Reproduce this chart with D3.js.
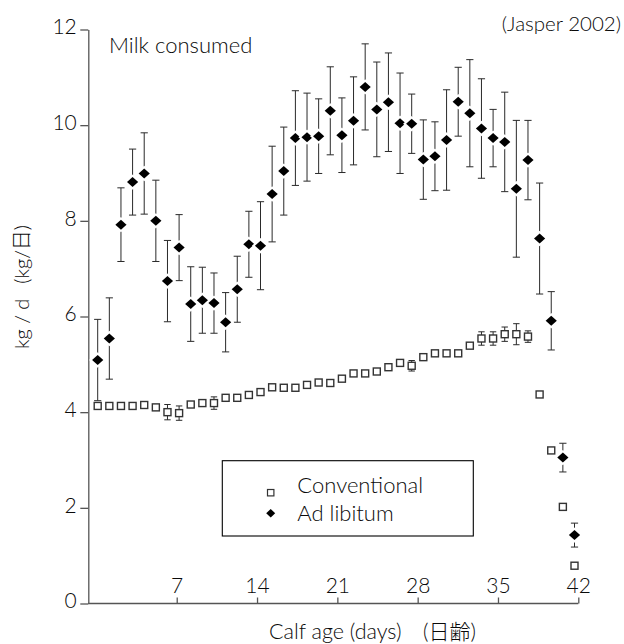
<!DOCTYPE html>
<html>
<head>
<meta charset="utf-8">
<script src="https://cdn.jsdelivr.net/npm/d3@7"></script>
<style>
  body { margin: 0; background: #fff; }
  svg { display: block; font-family: Lato, "Noto Sans CJK JP", sans-serif; font-weight: 300; }
  svg .tick text { font-family: Lato, sans-serif; font-weight: 300; }
</style>
</head>
<body>
<svg id="chart" width="624" height="644"></svg>
<script>
// Calf age (days) for each daily measurement
const days = [1, 2, 3, 4, 5, 6, 7, 8, 9, 10, 11, 12, 13, 14, 15, 16, 17, 18, 19, 20, 21,
              22, 23, 24, 25, 26, 27, 28, 29, 30, 31, 32, 33, 34, 35, 36, 37, 38, 39, 40, 41, 42];

// Milk consumed, conventional feeding (kg/d)
const conventional = [4.13, 4.13, 4.13, 4.13, 4.15, 4.10, 4.00, 3.98, 4.16, 4.19, 4.19, 4.30, 4.30, 4.36,
                      4.42, 4.52, 4.51, 4.51, 4.57, 4.62, 4.61, 4.70, 4.81, 4.81, 4.85, 4.94, 5.03, 4.97,
                      5.15, 5.23, 5.23, 5.23, 5.39, 5.54, 5.54, 5.63, 5.63, 5.58, 4.37, 3.20, 2.02, 0.79];
// Error (kg/d) for conventional; 0 = no bar shown
const conventionalErr = [0, 0, 0, 0, 0, 0, 0.16, 0.15, 0, 0, 0.13, 0, 0, 0,
                         0, 0, 0, 0, 0, 0, 0, 0, 0, 0, 0, 0, 0, 0.11,
                         0, 0, 0, 0, 0, 0.14, 0.14, 0.15, 0.22, 0.12, 0, 0, 0, 0];

// Milk consumed, ad libitum feeding (kg/d)
const adLibitum = [5.09, 5.54, 7.92, 8.81, 8.99, 8.00, 6.74, 7.44, 6.26, 6.34, 6.28, 5.88, 6.57, 7.51,
                   7.48, 8.56, 9.04, 9.73, 9.75, 9.77, 10.30, 9.79, 10.09, 10.80, 10.33, 10.48, 10.04, 10.03,
                   9.28, 9.35, 9.69, 10.49, 10.25, 9.93, 9.73, 9.65, 8.67, 9.27, 7.63, 5.91, 3.05, 1.43];
const adLibitumErr = [0.85, 0.85, 0.77, 0.69, 0.85, 0.85, 0.85, 0.69, 0.78, 0.69, 0.63, 0.62, 0.69, 0.69,
                      0.92, 1.00, 0.92, 0.99, 0.92, 0.78, 0.92, 0.78, 0.92, 0.90, 0.99, 1.03, 1.05, 0.62,
                      0.83, 0.72, 1.05, 0.72, 1.12, 1.04, 0.60, 1.04, 1.43, 0.83, 1.16, 0.61, 0.30, 0.25];

const yTicks = [0, 2, 4, 6, 8, 10, 12];
const xTicks = [7, 14, 21, 28, 35, 42];
const seriesNames = ["Conventional", "Ad libitum"];

const svg = d3.select("#chart");
const ink = "#0a0a0a";

// Scales
const y = d3.scaleLinear().domain([0, 12]).range([603.5, 29.5]);
const xAxisScale = d3.scaleLinear().domain([0, 42]).range([96.4, 578.3]);
const xPoint = d3.scalePoint().domain(days).range([97.7, 574.5]);
const axisX0 = 88.3;

// Y axis
const yAxis = svg.append("g")
  .attr("transform", `translate(${axisX0},0)`)
  .call(d3.axisLeft(y).tickValues(yTicks).tickSize(8).tickSizeOuter(0).tickPadding(3.5));
yAxis.attr("font-family", null);
yAxis.select(".domain").attr("stroke", "#555").attr("stroke-width", 1.3);
yAxis.selectAll(".tick line").attr("stroke", "#555").attr("stroke-width", 1.3);
yAxis.selectAll(".tick text")
  .attr("dy", "0.2em")
  .attr("fill", ink)
  .style("font-size", "21px");

// X axis: ticks and labels sit inside, above the baseline
const xAxis = svg.append("g")
  .attr("transform", `translate(0,${y(0)})`)
  .call(d3.axisTop(xAxisScale).tickValues(xTicks).tickSize(6).tickSizeOuter(0).tickPadding(5));
xAxis.attr("font-family", null);
xAxis.select(".domain").remove();
xAxis.selectAll(".tick line").attr("stroke", "#555").attr("stroke-width", 1.3);
xAxis.selectAll(".tick text").attr("fill", ink).style("font-size", "21px");
svg.append("line")
  .attr("x1", axisX0).attr("x2", xAxisScale(42))
  .attr("y1", y(0)).attr("y2", y(0))
  .attr("stroke", "#555").attr("stroke-width", 1.3);

// Error bar helper
function errorBars(values, errs, capHalf, cls) {
  const rows = days.map((d, i) => ({ d, v: values[i], e: errs[i] })).filter(r => r.e > 0);
  const g = svg.append("g").attr("class", cls)
    .attr("stroke", "#2a2a2a").attr("stroke-width", 1).attr("fill", "none");
  const eb = g.selectAll("g").data(rows).join("g");
  eb.append("line")
    .attr("x1", r => xPoint(r.d)).attr("x2", r => xPoint(r.d))
    .attr("y1", r => y(r.v + r.e)).attr("y2", r => y(r.v - r.e));
  eb.append("line")
    .attr("x1", r => xPoint(r.d) - capHalf).attr("x2", r => xPoint(r.d) + capHalf)
    .attr("y1", r => y(r.v + r.e)).attr("y2", r => y(r.v + r.e));
  eb.append("line")
    .attr("x1", r => xPoint(r.d) - capHalf).attr("x2", r => xPoint(r.d) + capHalf)
    .attr("y1", r => y(r.v - r.e)).attr("y2", r => y(r.v - r.e));
}

const diamondPath = (w, h) => `M0,${-h}L${w},0L0,${h}L${-w},0Z`;

// Conventional: hollow squares
errorBars(conventional, conventionalErr, 3.2, "err-conv");
svg.append("g").selectAll("rect")
  .data(days.map((d, i) => ({ d, v: conventional[i] })))
  .join("rect")
  .attr("x", r => xPoint(r.d) - 3.5)
  .attr("y", r => y(r.v) - 3.5)
  .attr("width", 7).attr("height", 7)
  .attr("fill", "#fff").attr("stroke", "#333").attr("stroke-width", 1.4);

// Ad libitum: filled diamonds with a white halo
errorBars(adLibitum, adLibitumErr, 3.6, "err-adlib");
svg.append("g").selectAll("path")
  .data(days.map((d, i) => ({ d, v: adLibitum[i] })))
  .join("path")
  .attr("transform", r => `translate(${xPoint(r.d)},${y(r.v)})`)
  .attr("d", diamondPath(5.6, 5))
  .attr("fill", "#000").attr("stroke", "#fff").attr("stroke-width", 4)
  .attr("paint-order", "stroke");

// Panel title and source
svg.append("text").attr("x", 109).attr("y", 53.3)
  .attr("fill", ink).style("font-size", "22px").text("Milk consumed");
svg.append("text").attr("x", 621).attr("y", 31).attr("text-anchor", "end")
  .attr("fill", ink).style("font-size", "20.5px").text("(Jasper 2002)");

// Axis titles
svg.append("text")
  .attr("transform", "translate(28.5,287) rotate(-90)")
  .attr("text-anchor", "middle").attr("fill", ink).style("font-size", "20px")
  .text("kg / d\u2003(kg/日)");
svg.append("text").attr("x", 269).attr("y", 638.5)
  .attr("fill", ink).style("font-size", "21.5px").text("Calf age (days)");
svg.append("text").attr("x", 423).attr("y", 638.5)
  .attr("fill", ink).style("font-size", "21px").text("(日齢)");

// Legend
const legend = svg.append("g");
legend.append("rect")
  .attr("x", 222.3).attr("y", 460.7).attr("width", 251).attr("height", 75.3)
  .attr("fill", "#fff").attr("stroke", "#000").attr("stroke-width", 1.1);
legend.append("rect")
  .attr("x", 270.7 - 3.2).attr("y", 489.5).attr("width", 6.4).attr("height", 6.4)
  .attr("fill", "#fff").attr("stroke", "#333").attr("stroke-width", 1.2);
legend.append("path")
  .attr("transform", "translate(270.7,513.3)")
  .attr("d", diamondPath(4.5, 4.2)).attr("fill", "#000");
legend.selectAll("text.lbl").data(seriesNames).join("text")
  .attr("class", "lbl")
  .attr("x", 297.3)
  .attr("y", (d, i) => i === 0 ? 492.7 : 520.7)
  .attr("fill", ink).style("font-size", "22px")
  .text(d => d);
</script>
</body>
</html>
